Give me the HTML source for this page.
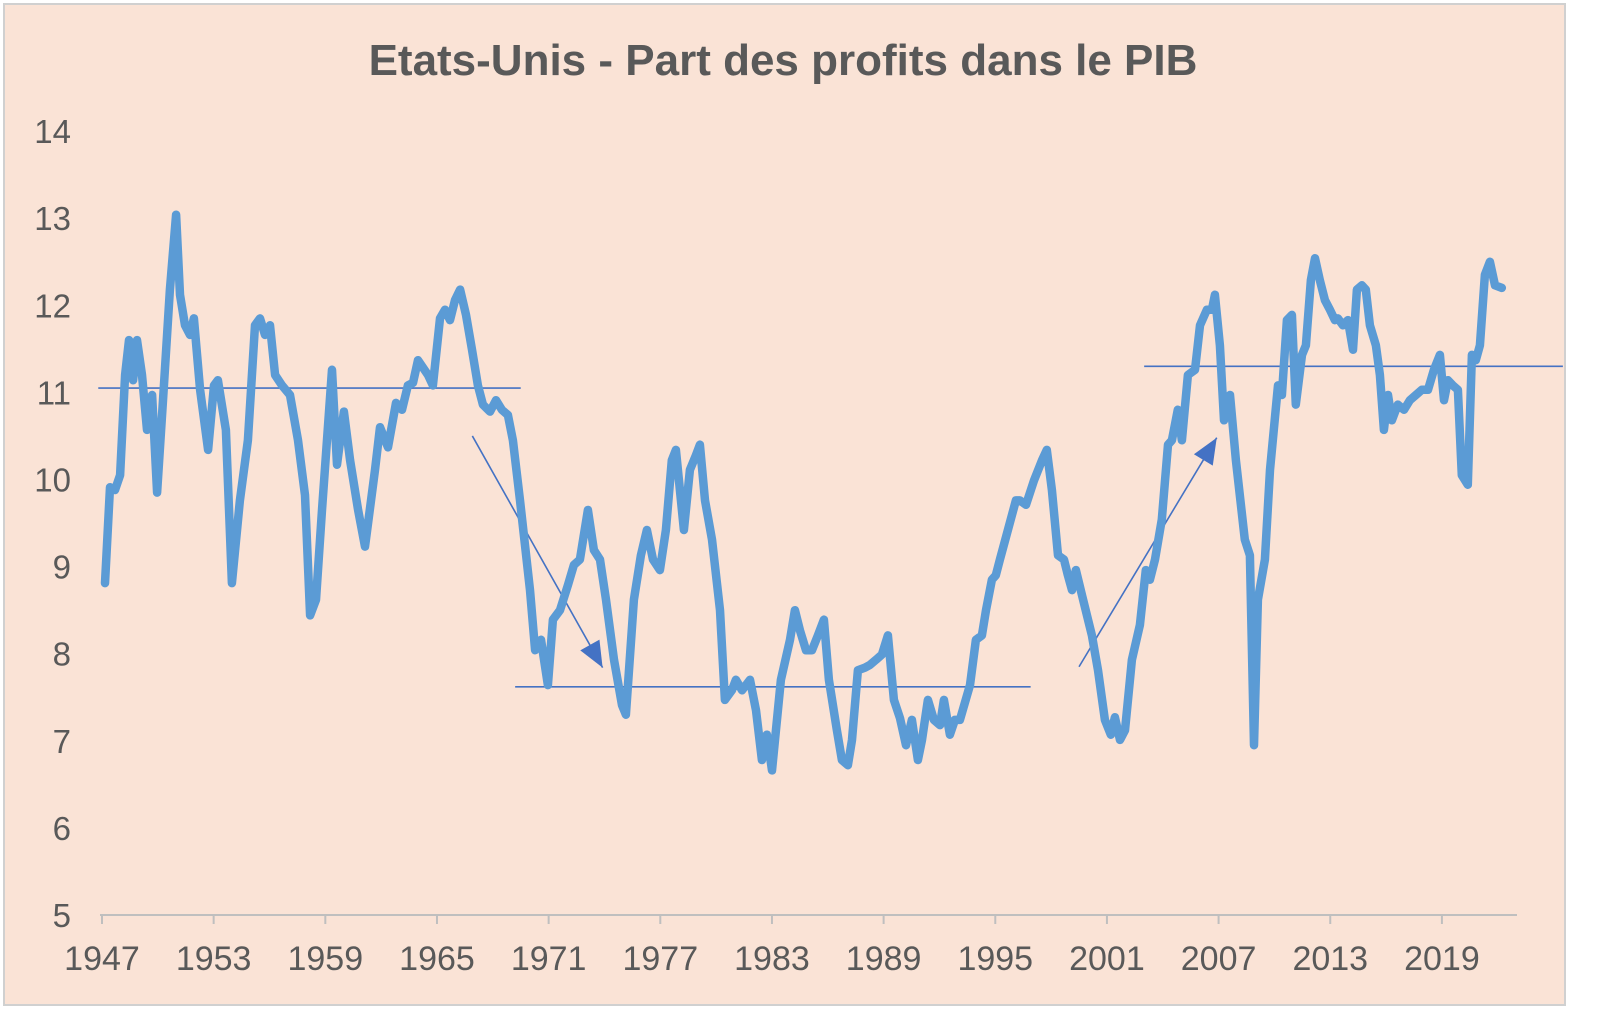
<!DOCTYPE html>
<html><head><meta charset="utf-8"><style>
html,body{margin:0;padding:0;background:#fff;width:1600px;height:1034px;overflow:hidden}
svg{display:block}
text{font-family:"Liberation Sans",Arial,sans-serif;fill:#595959}
</style></head><body>
<svg id="chart" width="1600" height="1034" viewBox="0 0 1600 1034">
<rect x="4" y="4" width="1561" height="1001" fill="#fae3d6" stroke="#d0d0d0" stroke-width="2"/>
<text x="783" y="75" font-size="44" font-weight="bold" text-anchor="middle">Etats-Unis - Part des profits dans le PIB</text>
<g id="yaxis"></g>
<g id="xaxis"></g>
<g id="annot"></g>
<g id="series"></g>
</svg>
<script>
const years=[1947.16,1947.43,1947.70,1947.97,1948.24,1948.45,1948.67,1948.88,1949.15,1949.42,1949.69,1949.96,1950.28,1950.65,1950.98,1951.19,1951.46,1951.73,1951.94,1952.27,1952.70,1953.02,1953.23,1953.66,1953.98,1954.41,1954.84,1955.22,1955.49,1955.76,1956.03,1956.30,1956.67,1957.10,1957.53,1957.91,1958.18,1958.50,1958.82,1959.36,1959.63,1960.00,1960.33,1960.76,1961.13,1961.67,1961.94,1962.37,1962.80,1963.12,1963.44,1963.71,1963.98,1964.52,1964.78,1965.16,1965.43,1965.70,1965.97,1966.24,1966.56,1966.88,1967.20,1967.47,1967.85,1968.17,1968.49,1968.81,1969.08,1969.46,1970.00,1970.27,1970.59,1970.96,1971.23,1971.61,1972.04,1972.36,1972.68,1973.11,1973.43,1973.76,1974.08,1974.51,1974.94,1975.15,1975.58,1975.96,1976.28,1976.61,1976.98,1977.30,1977.62,1977.84,1978.27,1978.59,1978.92,1979.13,1979.40,1979.78,1980.21,1980.47,1980.85,1981.06,1981.39,1981.82,1982.14,1982.46,1982.73,1983.00,1983.48,1983.97,1984.23,1984.50,1984.83,1985.15,1985.47,1985.79,1986.06,1986.49,1986.76,1987.08,1987.30,1987.62,1988.00,1988.26,1988.59,1988.91,1989.23,1989.55,1989.88,1990.20,1990.52,1990.84,1991.06,1991.38,1991.70,1992.03,1992.24,1992.56,1992.83,1993.10,1993.64,1993.96,1994.28,1994.50,1994.82,1995.03,1995.25,1995.68,1996.11,1996.32,1996.65,1997.08,1997.51,1997.77,1998.04,1998.37,1998.69,1998.90,1999.12,1999.33,1999.66,2000.19,2000.52,2000.89,2001.21,2001.43,2001.70,2001.97,2002.34,2002.77,2003.09,2003.31,2003.58,2003.95,2004.28,2004.49,2004.81,2005.03,2005.35,2005.73,2006.00,2006.37,2006.64,2006.80,2007.07,2007.29,2007.61,2007.93,2008.41,2008.68,2008.90,2009.11,2009.49,2009.76,2010.19,2010.40,2010.67,2010.94,2011.15,2011.48,2011.69,2011.96,2012.18,2012.44,2012.71,2012.98,2013.25,2013.41,2013.68,2013.95,2014.22,2014.43,2014.70,2014.91,2015.13,2015.45,2015.67,2015.88,2016.10,2016.31,2016.63,2016.96,2017.28,2017.60,2017.92,2018.25,2018.57,2018.89,2019.11,2019.32,2019.59,2019.86,2020.07,2020.39,2020.61,2020.82,2021.04,2021.31,2021.58,2021.85,2022.22];
const profitShare=[8.81,9.91,9.88,10.05,11.20,11.60,11.14,11.60,11.20,10.57,10.97,9.85,10.91,12.18,13.04,12.12,11.77,11.66,11.85,11.03,10.34,11.08,11.14,10.57,8.81,9.76,10.45,11.77,11.85,11.66,11.77,11.20,11.08,10.97,10.45,9.82,8.44,8.62,9.65,11.26,10.17,10.78,10.22,9.65,9.23,10.11,10.60,10.37,10.88,10.80,11.08,11.11,11.37,11.20,11.08,11.85,11.95,11.83,12.06,12.18,11.89,11.49,11.08,10.86,10.78,10.91,10.80,10.74,10.45,9.76,8.73,8.04,8.16,7.64,8.39,8.50,8.79,9.02,9.08,9.65,9.19,9.08,8.62,7.93,7.41,7.30,8.62,9.13,9.42,9.08,8.96,9.42,10.22,10.34,9.42,10.11,10.28,10.40,9.76,9.31,8.50,7.47,7.58,7.70,7.58,7.70,7.35,6.78,7.07,6.66,7.70,8.16,8.50,8.27,8.04,8.04,8.21,8.39,7.70,7.12,6.78,6.72,7.01,7.81,7.84,7.87,7.93,7.99,8.21,7.47,7.26,6.95,7.24,6.78,7.01,7.47,7.24,7.18,7.47,7.07,7.24,7.24,7.64,8.16,8.21,8.50,8.85,8.90,9.08,9.42,9.76,9.76,9.71,9.99,10.22,10.34,9.88,9.13,9.08,8.90,8.73,8.96,8.67,8.21,7.81,7.24,7.07,7.27,7.01,7.12,7.93,8.33,8.96,8.85,9.08,9.54,10.40,10.45,10.80,10.45,11.20,11.26,11.77,11.95,11.95,12.12,11.54,10.68,10.97,10.22,9.31,9.13,6.95,8.62,9.08,10.11,11.08,10.97,11.83,11.89,10.86,11.43,11.54,12.29,12.54,12.29,12.06,11.95,11.83,11.85,11.77,11.83,11.49,12.18,12.23,12.18,11.77,11.54,11.20,10.57,10.97,10.68,10.86,10.80,10.91,10.97,11.03,11.03,11.26,11.43,10.91,11.14,11.08,11.03,10.05,9.94,11.43,11.37,11.54,12.35,12.50,12.23,12.20];
const yTicks=[5,6,7,8,9,10,11,12,13,14];
const xTickLabels=[1947,1953,1959,1965,1971,1977,1983,1989,1995,2001,2007,2013,2019];
const trendLevels=[11.05,7.62,11.30];
const trendSpans=[[1946.8,1969.5],[1969.2,1996.9],[2003.0,2025.5]];
const arrowSegments=[[1966.9,10.5,1973.9,7.84],[1999.5,7.85,2006.9,10.48]];

const NS='http://www.w3.org/2000/svg';
const X=y=>102+(y-1947)*18.61;
const Y=v=>915-(v-5)*87.1;
function mk(tag,attrs,parent){const e=document.createElementNS(NS,tag);for(const k in attrs)e.setAttribute(k,attrs[k]);parent.appendChild(e);return e;}
const ya=document.getElementById('yaxis'),xa=document.getElementById('xaxis'),an=document.getElementById('annot'),se=document.getElementById('series');
yTicks.forEach(v=>{const t=mk('text',{x:71,y:Y(v)+12,'font-size':33,'text-anchor':'end'},ya);t.textContent=v;

});
const ax=mk('line',{x1:100,y1:915,x2:1517,y2:915,stroke:'#bfbfbf','stroke-width':2},xa);


xTickLabels.forEach(yr=>{const tk=mk('line',{x1:X(yr),y1:915,x2:X(yr),y2:924,stroke:'#bfbfbf','stroke-width':2},xa);


const t=mk('text',{x:X(yr),y:970,'font-size':34,'text-anchor':'middle'},xa);t.textContent=yr;

});
trendLevels.forEach((lv,i)=>{const l=mk('line',{x1:X(trendSpans[i][0]),x2:X(trendSpans[i][1]),y1:Y(lv),y2:Y(lv),stroke:'#4472c4','stroke-width':1.6},an);

});
arrowSegments.forEach(s=>{const x1=X(s[0]),y1=Y(s[1]),x2=X(s[2]),y2=Y(s[3]);
const l=mk('line',{x1,y1,x2,y2,stroke:'#4472c4','stroke-width':1.6},an);


const a=Math.atan2(y2-y1,x2-x1),L=26,W=11;
const bx=x2-L*Math.cos(a),by=y2-L*Math.sin(a);
const p=mk('polygon',{points:`${x2},${y2} ${bx+W*Math.sin(a)},${by-W*Math.cos(a)} ${bx-W*Math.sin(a)},${by+W*Math.cos(a)}`,fill:'#4472c4'},an);

});
const d=years.map((yr,i)=>(i?'L':'M')+X(yr).toFixed(1)+','+Y(profitShare[i]).toFixed(1)).join(' ');
const path=mk('path',{d,fill:'none',stroke:'#5b9bd5','stroke-width':8.5,'stroke-linejoin':'round','stroke-linecap':'round'},se);


</script>
</body></html>
